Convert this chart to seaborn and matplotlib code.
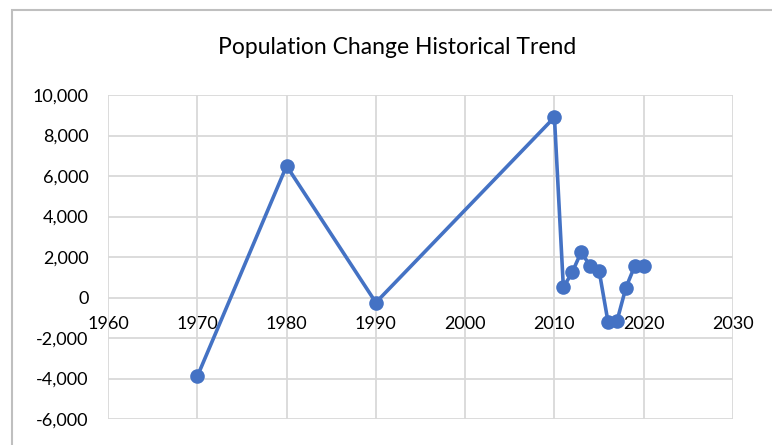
import matplotlib
matplotlib.use("Agg")
import matplotlib.pyplot as plt
import seaborn as sns
import pandas as pd
from matplotlib.patches import Rectangle
from matplotlib.ticker import FuncFormatter

years = [1970, 1980, 1990, 2010, 2011, 2012, 2013, 2014, 2015, 2016, 2017, 2018, 2019, 2020]
change = [-3900, 6500, -250, 8900, 500, 1250, 2250, 1550, 1330, -1200, -1170, 480, 1560, 1560]
title = "Population Change Historical Trend"
x_ticks = [1960, 1970, 1980, 1990, 2000, 2010, 2020, 2030]
y_ticks = [-6000, -4000, -2000, 0, 2000, 4000, 6000, 8000, 10000]

sns.set_theme(style="white")
plt.rcParams['font.family'] = ['Lato', 'DejaVu Sans']

df = pd.DataFrame({"year": years, "change": change})

W, H = 772, 445
fig = plt.figure(figsize=(W / 100, H / 100), dpi=100)
ax = fig.add_axes([108 / W, 1 - 419 / H, (733 - 108) / W, (419 - 95) / H])

# outer chart border
fig.patches.append(Rectangle((11.5 / W, -0.1), 1.2, 1 - 9.5 / H + 0.1,
                             transform=fig.transFigure, fill=False,
                             edgecolor="#BFBFBF", linewidth=1.5))

sns.lineplot(data=df, x="year", y="change", ax=ax, color="#4472C4",
             linewidth=2.6, marker="o", markersize=10.5, markeredgewidth=0,
             sort=False, zorder=3)

ax.set_xlim(1960, 2030)
ax.set_ylim(-6000, 10000)
ax.set_xticks(x_ticks)
ax.set_yticks(y_ticks)
ax.yaxis.set_major_formatter(FuncFormatter(lambda v, p: f"{int(v):,}"))
ax.grid(True, color="#D9D9D9", linewidth=1.3)
ax.set_axisbelow(True)
for s in ["top", "right", "left"]:
    ax.spines[s].set_visible(False)
ax.spines["bottom"].set_position(("data", 0))
ax.spines["bottom"].set_visible(False)
ax.tick_params(axis="x", length=0, pad=13, labelsize=13, colors="#000000")
ax.tick_params(axis="y", length=0, pad=14, labelsize=13, colors="#000000")
ax.set_xlabel("")
ax.set_ylabel("")

fig.text(397 / W, 1 - 47 / H, title, ha="center", va="center", fontsize=16.5, color="#000000")

fig.savefig("out.png", dpi=100)
